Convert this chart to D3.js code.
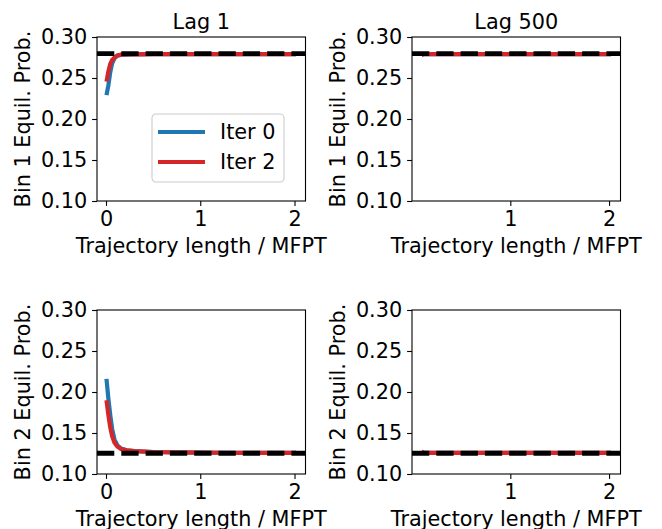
<!DOCTYPE html>
<html>
<head>
<meta charset="utf-8">
<script src="https://cdn.jsdelivr.net/npm/d3@7"></script>
<style>
  body { margin: 0; background: #fff; }
  svg { display: block; font-family: "DejaVu Sans", sans-serif; }
</style>
</head>
<body>
<div id="chart"></div>
<script>
// trajectory length (in units of MFPT)
const lengthLag1 = [0.005, 0.025, 0.045, 0.065, 0.09, 0.12, 0.16, 0.22, 0.30, 0.50, 0.75, 1.00, 1.25, 1.50, 1.75, 2.016];
const lengthLag500 = [0.10, 0.12, 0.20, 0.40, 0.60, 0.80, 1.00, 1.20, 1.40, 1.60, 1.80, 2.02];

// bin 1, lag 1
const bin1Lag1Iter0 = [0.229, 0.241, 0.257, 0.268, 0.274, 0.2772, 0.2782, 0.2786, 0.2788, 0.2790, 0.2791, 0.2792, 0.2792, 0.2792, 0.2792, 0.2792];
const bin1Lag1Iter2 = [0.2455, 0.258, 0.267, 0.272, 0.275, 0.2775, 0.2784, 0.2787, 0.2789, 0.2790, 0.2791, 0.2792, 0.2792, 0.2792, 0.2792, 0.2792];
// bin 2, lag 1
const bin2Lag1Iter0 = [0.216, 0.192, 0.172, 0.155, 0.142, 0.135, 0.131, 0.129, 0.1278, 0.1268, 0.1263, 0.1260, 0.1259, 0.1258, 0.1258, 0.1258];
const bin2Lag1Iter2 = [0.190, 0.172, 0.157, 0.146, 0.138, 0.1335, 0.1305, 0.1288, 0.1278, 0.1268, 0.1263, 0.1260, 0.1259, 0.1258, 0.1258, 0.1258];
// lag 500
const bin1Lag500Iter0 = [0.2782, 0.2790, 0.2791, 0.2792, 0.2792, 0.2792, 0.2792, 0.2792, 0.2792, 0.2792, 0.2792, 0.2792];
const bin1Lag500Iter2 = [0.2778, 0.2790, 0.2791, 0.2792, 0.2792, 0.2792, 0.2792, 0.2792, 0.2792, 0.2792, 0.2792, 0.2792];
const bin2Lag500Iter0 = [0.1270, 0.1260, 0.1258, 0.1258, 0.1258, 0.1258, 0.1258, 0.1258, 0.1258, 0.1258, 0.1258, 0.1258];
const bin2Lag500Iter2 = [0.1273, 0.1260, 0.1258, 0.1258, 0.1258, 0.1258, 0.1258, 0.1258, 0.1258, 0.1258, 0.1258, 0.1258];

// reference equilibrium probabilities
const bin1Ref = 0.2797;
const bin2Ref = 0.1253;

const seriesNames = ["Iter 0", "Iter 2"];
const yTicks = [0.10, 0.15, 0.20, 0.25, 0.30];
const xTicks = [0, 1, 2];

const colors = ["#1f77b4", "#d62728"];
const fontSize = 20.8;

const panels = [
  {title: "Lag 1", ylabel: "Bin 1 Equil. Prob.", x: lengthLag1, series: [bin1Lag1Iter0, bin1Lag1Iter2], ref: bin1Ref, left: 97, top: 37, legend: true},
  {title: "Lag 500", ylabel: "Bin 1 Equil. Prob.", x: lengthLag500, series: [bin1Lag500Iter0, bin1Lag500Iter2], ref: bin1Ref, left: 412, top: 37},
  {title: null, ylabel: "Bin 2 Equil. Prob.", x: lengthLag1, series: [bin2Lag1Iter0, bin2Lag1Iter2], ref: bin2Ref, left: 97, top: 310},
  {title: null, ylabel: "Bin 2 Equil. Prob.", x: lengthLag500, series: [bin2Lag500Iter0, bin2Lag500Iter2], ref: bin2Ref, left: 412, top: 310}
];
const pw = 208.5, ph = 164;

const svg = d3.select("#chart").append("svg")
  .attr("width", 662).attr("height", 529);

panels.forEach((p, pi) => {
  // matplotlib style 5% margins
  const lo = d3.min(p.x), hi = d3.max(p.x), span = hi - lo;
  const x = d3.scaleLinear().domain([lo - 0.05 * span, hi + 0.05 * span]).range([0, pw]);
  const y = d3.scaleLinear().domain([0.10, 0.30]).range([ph, 0]);

  const g = svg.append("g").attr("transform", `translate(${p.left},${p.top})`);

  g.append("clipPath").attr("id", "clip" + pi)
    .append("rect").attr("width", pw).attr("height", ph);

  const plot = g.append("g").attr("clip-path", `url(#clip${pi})`);
  const line = d3.line().x((d, i) => x(p.x[i])).y(d => y(d));

  p.series.forEach((s, si) => {
    plot.append("path")
      .attr("d", line(s))
      .attr("fill", "none")
      .attr("stroke", colors[si])
      .attr("stroke-width", 4.2);
  });

  // reference line (axhline)
  plot.append("line")
    .attr("x1", 0).attr("x2", pw)
    .attr("y1", y(p.ref)).attr("y2", y(p.ref))
    .attr("stroke", "#000")
    .attr("stroke-width", 4.8)
    .attr("stroke-dasharray", "17.3 7");

  // axes
  const yAxis = d3.axisLeft(y).tickValues(yTicks).tickFormat(d3.format(".2f"))
    .tickSize(4.9).tickPadding(4.9);
  const xAxis = d3.axisBottom(x).tickValues(xTicks.filter(t => t >= x.domain()[0] && t <= x.domain()[1]))
    .tickFormat(d3.format("d")).tickSize(4.9).tickPadding(4.9);

  const ya = g.append("g").call(yAxis);
  const xa = g.append("g").attr("transform", `translate(0,${ph})`).call(xAxis);
  [ya, xa].forEach(a => {
    a.select(".domain").remove();
    a.selectAll(".tick line").attr("stroke", "#000").attr("stroke-width", 1.1);
    a.selectAll("text").attr("fill", "#000")
      .style("font-size", fontSize + "px").style("font-family", "DejaVu Sans");
  });

  g.append("rect")
    .attr("width", pw).attr("height", ph)
    .attr("fill", "none").attr("stroke", "#000").attr("stroke-width", 1.1);

  if (p.title) {
    g.append("text")
      .attr("x", pw / 2).attr("y", -8.5)
      .attr("text-anchor", "middle")
      .style("font-size", fontSize + "px")
      .text(p.title);
  }

  g.append("text")
    .attr("transform", `translate(-67,${ph / 2}) rotate(-90)`)
    .attr("text-anchor", "middle")
    .style("font-size", fontSize + "px")
    .text(p.ylabel);

  g.append("text")
    .attr("x", pw / 2).attr("y", ph + 52)
    .attr("text-anchor", "middle")
    .style("font-size", fontSize + "px")
    .text("Trajectory length / MFPT");

  if (p.legend) {
    const lg = g.append("g").attr("transform", "translate(55,77)");
    lg.append("rect")
      .attr("width", 132).attr("height", 68)
      .attr("rx", 4).attr("ry", 4)
      .attr("fill", "#fff").attr("fill-opacity", 0.8)
      .attr("stroke", "#cccccc").attr("stroke-width", 1.1);
    seriesNames.forEach((name, i) => {
      const cy = 18 + i * 30;
      lg.append("line")
        .attr("x1", 6).attr("x2", 53)
        .attr("y1", cy).attr("y2", cy)
        .attr("stroke", colors[i]).attr("stroke-width", 4.2);
      lg.append("text")
        .attr("x", 68).attr("y", cy)
        .attr("dy", "0.36em")
        .style("font-size", fontSize + "px")
        .text(name);
    });
  }
});
</script>
</body>
</html>
